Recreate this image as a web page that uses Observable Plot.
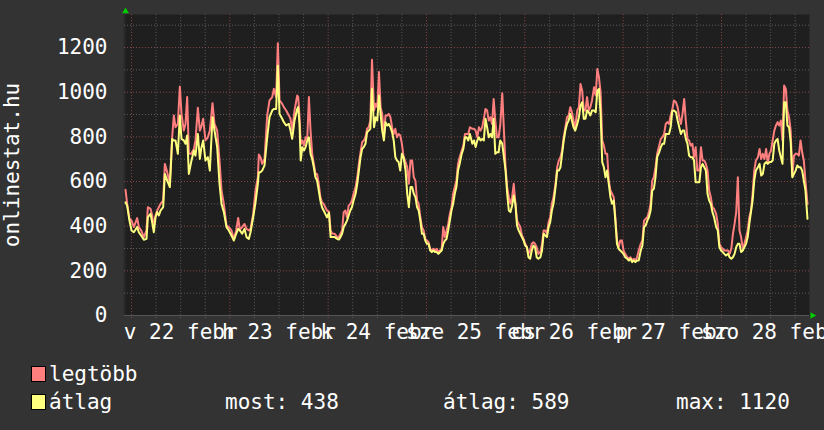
<!DOCTYPE html>
<html><head><meta charset="utf-8">
<script src="https://cdn.jsdelivr.net/npm/d3@7"></script>
<script src="https://cdn.jsdelivr.net/npm/@observablehq/plot@0.6"></script>
<style>
html,body{margin:0;padding:0;background:#333333;width:824px;height:430px;overflow:hidden;font-family:"DejaVu Sans Mono",monospace;}
#wrap{position:relative;width:824px;height:430px;}
#legend{position:absolute;left:0;top:0;width:824px;height:430px;color:#ffffff;font-size:21px;}
.sw{position:absolute;width:13px;height:14px;border:1px solid #000;}
.t{position:absolute;white-space:pre;line-height:21px;}
</style></head><body>
<div id="wrap"><div id="chart"></div><div id="legend"></div></div>
<script>
// hours since 2015-02-22 00:00
const hours = [
-1.46,-1.06,-0.5,0,0.57,1.38,1.79,2.36,3.01,3.66,3.99,4.64,5.04,5.45,5.86,6.27,6.67,7.08,7.73,8.14,8.71,9.36,9.93,10.33,10.74,11.31,11.8,12.2,12.77,13.18,13.59,14,14.56,15.22,15.62,16.19,16.68,17,17.49,18.06,18.63,19.12,19.77,20.26,20.91,21.48,21.97,22.54,23.19,23.76,24.41,24.98,25.55,26.04,26.44,27.01,27.58,28.07,28.64,29.05,29.7,30.27,30.84,31.08,31.49,31.9,32.47,33.12,33.69,34.34,34.74,35.31,35.72,36.13,36.78,37.18,37.75,38.41,38.81,39.22,39.79,40.44,
40.68,41,41.3,41.7,42.1,42.5,42.9,43.3,43.7,44.1,44.5,44.9,45.3,45.7,46.1,46.5,46.9,47.3,47.7,48.2,48.6,49,49.6,50.2,50.6,51,51.4,51.8,52.2,52.6,53,53.4,53.8,54.2,54.7,55.1,55.5,55.9,56.3,56.7,57.1,57.5,57.9,58.3,58.7,59.2,59.6,60,60.4,60.8,61.2,61.6,62,62.4,62.8,63.2,63.6,64,64.4,64.8,65.2,65.6,66,66.4,66.9,67.3,67.7,68.1,68.5,68.9,69.3,69.7,70.1,70.5,70.9,71.3,71.7,72.1,72.5,72.9,73.3,73.7,74.1,74.5,74.9,75.3,75.7,76.1,76.5,76.9,77.3,77.7,78.1,78.5,78.9,79.3,79.7,80.1,80.6,81,81.4,81.8,82.2,82.6,
83.2,83.6,84,84.4,84.8,85.2,85.6,86,86.4,86.8,87.2,87.6,88,88.4,88.8,89.2,89.6,90,90.5,90.9,91.3,91.7,92.1,92.5,92.9,93.3,93.7,94.1,94.5,94.9,95.3,95.7,96.1,96.5,96.9,97.3,97.7,98.1,98.5,98.9,99.3,99.8,100.2,100.6,101,101.4,101.8,102.2,102.6,103,103.5,103.9,104.3,104.7,105.1,105.5,105.9,106.3,106.7,107.1,107.5,107.9,108.3,108.8,109.2,109.6,110,110.4,110.8,111.2,111.6,112,112.4,112.9,113.3,113.7,114.1,114.5,114.9,115.3,115.7,116.1,116.5,116.9,117.3,117.7,118.1,118.5,118.9,119.3,119.7,120.1,120.5,121,121.4,121.8,122.2,122.6,123,123.4,123.8,124.3,124.7,125.1,
125.5,125.9,126.3,126.7,127.1,127.5,127.9,128.3,128.8,129.2,129.6,130,130.4,130.8,131.2,131.6,132,132.4,132.9,133.3,133.7,134.1,134.5,134.9,135.3,135.7,136.1,136.5,136.9,137.3,137.7,138.1,138.6,139,139.4,139.8,140.2,140.6,141,141.4,141.8,142.2,142.7,143.1,143.5,143.9,144.3,144.7,145.1,145.6,146,146.4,146.8,147.2,147.6,148,148.4,148.8,149.2,149.6,150,150.4,150.8,151.2,151.6,152,152.4,152.9,153.3,153.7,154.1,154.5,154.9,155.3,155.7,156.1,156.5,156.9,157.3,157.7,158.1,158.5,158.9,159.3,159.7,160.1,160.5,160.9,161.3,161.7,162.1,162.5,162.9,163.3,163.7,164.1,164.5,165
];
// "legtöbb" (max) series
const legtobbVals = [
563,500,433,425,396,436,396,381,351,381,485,478,448,396,448,470,485,500,515,679,642,590,800,896,843,858,1025,903,828,858,978,724,724,746,784,930,828,843,881,784,798,828,951,858,828,694,560,500,403,396,381,343,381,437,385,396,410,388,381,388,455,560,619,721,709,679,701,896,963,978,1015,978,1219,963,948,933,918,896,881,828,918,985,
978,896,769,784,761,798,790,978,828,724,679,634,634,590,530,507,500,485,470,465,381,366,366,351,351,366,381,463,470,440,492,500,515,545,575,619,679,731,776,784,798,836,843,873,1145,918,948,933,1090,933,903,798,896,896,903,888,843,813,836,798,813,806,769,712,687,664,590,694,694,619,604,515,500,440,396,381,343,336,328,299,291,299,291,299,284,291,299,396,351,381,410,455,485,545,575,604,679,709,739,761,813,813,813,843,
836,836,828,798,843,828,843,881,925,918,873,888,858,970,873,798,798,851,995,828,664,575,530,500,530,590,505,425,410,396,358,343,321,308,276,291,321,328,321,306,276,284,321,381,381,366,418,440,500,530,590,664,694,709,739,798,843,888,896,933,910,873,843,918,933,1037,1007,918,918,978,918,933,963,1022,985,1104,1067,1000,784,761,724,724,604,560,545,530,440,336,306,336,336,291,276,261,254,261,246,254,246,261,291,321,336,425,
433,440,463,500,604,619,664,724,761,791,798,813,858,866,858,896,922,963,955,933,888,858,903,970,873,790,784,761,769,709,754,649,649,754,694,694,679,649,560,530,485,478,455,410,321,306,299,291,291,291,276,299,366,410,463,619,381,351,299,321,351,381,440,470,545,649,694,709,746,701,724,701,746,685,724,739,784,828,851,866,851,873,784,1030,1015,918,888,828,625,716,724,724,716,784,731,694,604,500
];
// "átlag" (average) series
const atlagVals = [
507,492,425,381,373,396,373,358,339,343,440,455,418,373,440,463,448,470,485,634,604,575,790,784,784,724,896,791,784,769,806,634,687,739,716,813,701,746,784,694,709,649,888,828,754,590,500,463,396,381,358,336,366,388,381,366,388,351,343,373,440,507,590,642,642,649,672,798,888,918,925,925,1119,903,881,866,851,858,828,791,873,925,
933,858,694,754,739,754,784,798,724,701,664,619,604,560,515,485,470,455,440,460,351,351,351,343,340,351,366,396,410,425,448,470,485,515,545,590,649,709,746,754,769,821,828,836,1015,843,888,873,985,903,828,784,866,851,858,843,821,784,709,694,687,649,724,709,649,545,485,575,575,545,530,485,470,425,366,366,336,321,321,291,284,291,284,284,276,284,291,321,336,343,381,425,470,500,545,575,649,679,724,746,798,798,784,813,
769,784,754,784,798,784,791,784,881,843,798,813,798,881,724,731,731,784,769,709,649,545,470,463,492,537,500,403,381,366,351,336,313,306,261,254,291,313,306,261,254,261,291,366,358,351,396,418,470,500,575,649,649,664,724,784,828,858,873,903,873,843,828,858,888,940,955,881,881,918,910,896,918,918,910,1007,1015,903,687,664,619,649,590,530,500,515,425,321,299,291,284,276,261,254,246,254,239,246,239,246,246,291,313,396,
403,425,440,470,560,567,619,709,731,754,769,769,813,813,813,843,915,918,910,873,843,813,828,828,791,770,716,709,709,694,597,597,597,664,679,664,649,545,515,500,463,440,396,381,306,291,284,276,269,276,261,254,261,276,306,321,321,284,291,306,321,351,410,463,515,604,649,664,679,627,634,679,687,679,687,687,694,769,784,791,739,709,679,955,955,851,843,776,619,634,649,672,664,664,649,604,560,433
];
const dayLabels = ["v 22 febr","h 23 febr","k 24 febr","sze 25 febr","cs 26 febr","p 27 febr","szo 28 febr"];
const yTicks = [0,200,400,600,800,1000,1200];
const yTitle = "onlinestat.hu";
const seriesNames = ["legtöbb","átlag"];
const seriesColors = ["#ff7f7f","#ffff7f"];
const statsText = ["most: 438","átlag: 589","max: 1120"];

const rows = hours.map((h,i)=>({h, legtobb: legtobbVals[i], atlag: atlagVals[i]}));

const xDomain = [-1.71, 165.49];
const yDomain = [0, 1348];
const sixHours = d3.range(0, 166, 6);
const minorX = sixHours.filter(d => d % 24 !== 0);
const majorX = sixHours.filter(d => d % 24 === 0);
const minorY = d3.range(100, 1348, 200);
const majorY = d3.range(200, 1348, 200);
const noonTicks = dayLabels.map((_, i) => 12 + 24*i);

const chart = Plot.plot({
  width: 824, height: 345,
  marginLeft: 124, marginRight: 15, marginTop: 14, marginBottom: 30,
  style: {background: "transparent", color: "#ffffff", fontFamily: '"DejaVu Sans Mono", monospace', fontSize: "21px"},
  x: {domain: xDomain},
  y: {domain: yDomain},
  marks: [
    Plot.frame({fill: "#1f1f1f", stroke: "none"}),
    Plot.ruleX([xDomain[0]], {stroke: "#2a2a2a", strokeWidth: 2}),
    Plot.ruleX(minorX, {y1: -14, y2: yDomain[1], stroke: "#5c5c5c", strokeDasharray: "1,2"}),
    Plot.ruleY(minorY, {stroke: "#5c5c5c", strokeDasharray: "1,2"}),
    Plot.ruleY(majorY, {stroke: "#8a4848", strokeDasharray: "1,2"}),
    Plot.ruleX(majorX, {y1: -14, y2: yDomain[1], stroke: "#8a4848", strokeDasharray: "1,2"}),
    Plot.ruleY([0], {stroke: "#555555"}),
    Plot.line(rows, {x: "h", y: "legtobb", stroke: seriesColors[0], strokeWidth: 2}),
    Plot.line(rows, {x: "h", y: "atlag", stroke: seriesColors[1], strokeWidth: 2}),
    Plot.axisY({ticks: yTicks, tickFormat: d => String(d), tickSize: 0, tickPadding: 17, label: null, fill: "#ffffff", fontSize: 21}),
    Plot.axisX({ticks: noonTicks, tickFormat: d => dayLabels[(d - 12) / 24], tickSize: 0, tickPadding: 9, label: null, fill: "#ffffff", fontSize: 21}),
    Plot.text([yTitle], {frameAnchor: "left", textAnchor: "middle", dx: -112, rotate: -90, fill: "#ffffff", fontSize: 21}),
    Plot.dot([[xDomain[0] + 0.25, 1362]], {x: d => d[0], y: d => d[1], symbol: "triangle", r: 2.5, fill: "#00cc00", stroke: "none"}),
    Plot.dot([[166.2, 0]], {x: d => d[0], y: d => d[1], symbol: "triangle", rotate: 90, r: 2.5, fill: "#00cc00", stroke: "none"})
  ]
});
document.getElementById("chart").appendChild(chart);

const legend = document.getElementById("legend");
const rowTops = [364, 392];
seriesNames.forEach((name, i) => {
  const sw = document.createElement("div");
  sw.className = "sw"; sw.style.left = "31px"; sw.style.top = (rowTops[i] + 2) + "px"; sw.style.background = seriesColors[i];
  legend.appendChild(sw);
  const t = document.createElement("div");
  t.className = "t"; t.style.left = "49px"; t.style.top = rowTops[i] + "px"; t.textContent = name;
  legend.appendChild(t);
});
const statLefts = [225, 443, 676];
statsText.forEach((s, i) => {
  const t = document.createElement("div");
  t.className = "t"; t.style.left = statLefts[i] + "px"; t.style.top = rowTops[1] + "px"; t.textContent = s;
  legend.appendChild(t);
});
</script>
</body></html>
